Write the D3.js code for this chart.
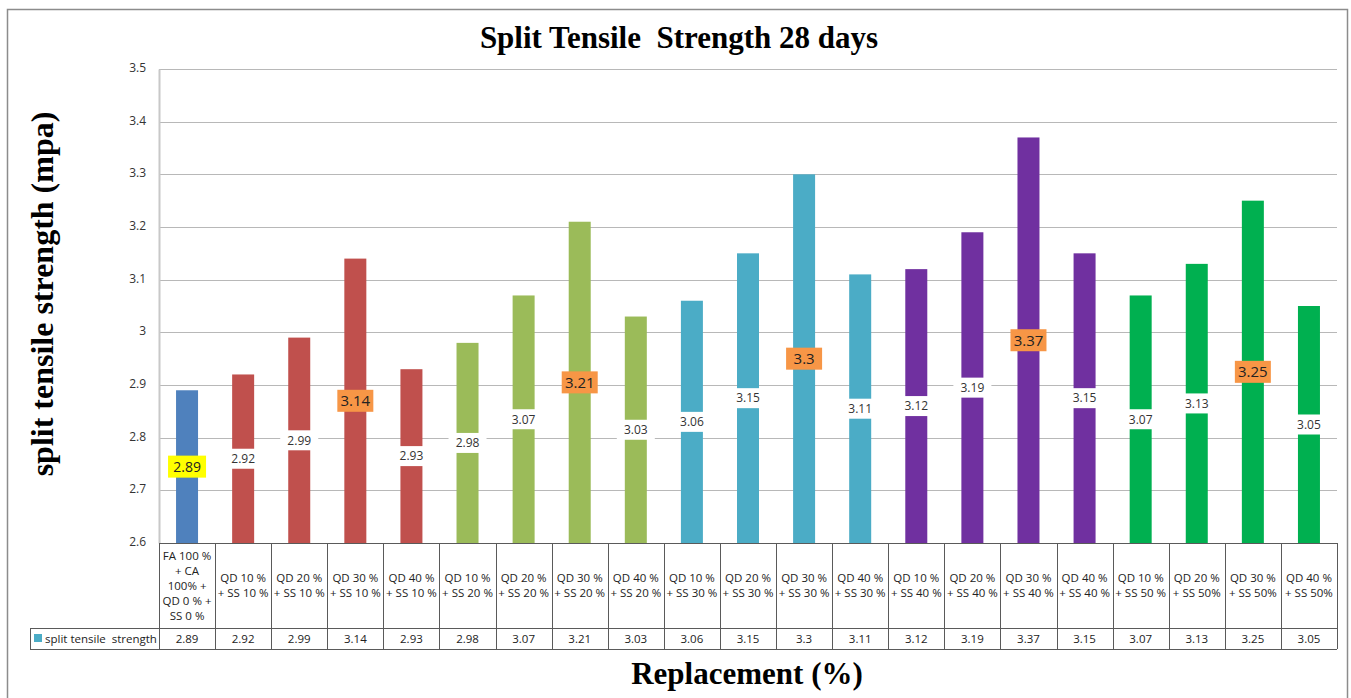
<!DOCTYPE html>
<html>
<head>
<meta charset="utf-8">
<script src="https://cdn.jsdelivr.net/npm/d3@7"></script>
<style>
  body { margin: 0; background: #fff; }
  svg { display: block; }
  .tick-label { font-family: "Open Sans", "Liberation Sans", sans-serif; font-size: 12px; fill: #333; }
  .cell-text { font-family: "Open Sans", "Liberation Sans", sans-serif; font-size: 11.5px; fill: #222; }
</style>
</head>
<body>
<script>
// chart data
var categories = [
    ["FA 100 %", "+ CA", "100% +", "QD 0 % +", "SS 0 %"],
    ["QD 10 %", "+ SS 10 %"], ["QD 20 %", "+ SS 10 %"], ["QD 30 %", "+ SS 10 %"], ["QD 40 %", "+ SS 10 %"],
    ["QD 10 %", "+ SS 20 %"], ["QD 20 %", "+ SS 20 %"], ["QD 30 %", "+ SS 20 %"], ["QD 40 %", "+ SS 20 %"],
    ["QD 10 %", "+ SS 30 %"], ["QD 20 %", "+ SS 30 %"], ["QD 30 %", "+ SS 30 %"], ["QD 40 %", "+ SS 30 %"],
    ["QD 10 %", "+ SS 40 %"], ["QD 20 %", "+ SS 40 %"], ["QD 30 %", "+ SS 40 %"], ["QD 40 %", "+ SS 40 %"],
    ["QD 10 %", "+ SS 50 %"], ["QD 20 %", "+ SS 50%"], ["QD 30 %", "+ SS 50%"], ["QD 40 %", "+ SS 50%"]
];
var values = [2.89, 2.92, 2.99, 3.14, 2.93, 2.98, 3.07, 3.21, 3.03, 3.06, 3.15, 3.3, 3.11, 3.12, 3.19, 3.37, 3.15, 3.07, 3.13, 3.25, 3.05];
var valueLabels = ["2.89", "2.92", "2.99", "3.14", "2.93", "2.98", "3.07", "3.21", "3.03", "3.06", "3.15", "3.3", "3.11", "3.12", "3.19", "3.37", "3.15", "3.07", "3.13", "3.25", "3.05"];
var groups = [0, 1, 1, 1, 1, 2, 2, 2, 2, 3, 3, 3, 3, 4, 4, 4, 4, 5, 5, 5, 5];
var groupColors = ["#4f81bd", "#c0504d", "#9bbb59", "#4bacc6", "#7030a0", "#00b050"];
// label highlight: 0 plain white, 1 yellow, 2 orange
var labelStyle = [1, 0, 0, 2, 0, 0, 0, 2, 0, 0, 0, 2, 0, 0, 0, 2, 0, 0, 0, 2, 0];
var yTicks = [2.6, 2.7, 2.8, 2.9, 3, 3.1, 3.2, 3.3, 3.4, 3.5];
var seriesName = "split tensile  strength";

var W = 1351, H = 698;
var PLOT_L = 159, PLOT_R = 1337, PLOT_T = 69, PLOT_B = 543;
var CAT_ROW_B = 628, DATA_ROW_B = 649, LEGEND_L = 30;

var svg = d3.select("body").append("svg")
    .attr("width", W)
    .attr("height", H);

// outer frame
svg.append("rect")
    .attr("x", 7.5).attr("y", 9.5)
    .attr("width", 1340).attr("height", 720)
    .attr("fill", "none")
    .attr("stroke", "#8c8c8c")
    .attr("stroke-width", 1.5);

var x = d3.scaleBand()
    .domain(d3.range(values.length))
    .range([PLOT_L, PLOT_R]);
var y = d3.scaleLinear()
    .domain([2.6, 3.5])
    .range([PLOT_B, PLOT_T]);

// gridlines
svg.selectAll("gridline")
    .data(yTicks)
    .enter()
    .append("line")
    .attr("x1", PLOT_L)
    .attr("x2", PLOT_R)
    .attr("y1", function (d) { return Math.round(y(d)) + 0.5; })
    .attr("y2", function (d) { return Math.round(y(d)) + 0.5; })
    .attr("stroke", "#b8b8b8")
    .attr("stroke-width", 1);

// y axis
var yAxis = d3.axisLeft(y).tickValues(yTicks).tickSize(0).tickPadding(13)
    .tickFormat(function (d) { return String(d); });
var yg = svg.append("g")
    .attr("transform", "translate(" + PLOT_L + ",0)")
    .call(yAxis);
yg.select(".domain").attr("stroke", "#c8c8c8").attr("stroke-width", 2);
yg.selectAll("text").attr("class", "tick-label").attr("dy", "0.2em");

// bars
var barW = 22;
svg.selectAll("bar")
    .data(values)
    .enter()
    .append("rect")
    .attr("x", function (d, i) { return x(i) + x.bandwidth() / 2 - barW / 2; })
    .attr("y", function (d) { return y(d); })
    .attr("width", barW)
    .attr("height", function (d) { return PLOT_B - y(d); })
    .attr("fill", function (d, i) { return groupColors[groups[i]]; });

// data labels in the middle of each bar
var labels = svg.selectAll("datalabel")
    .data(values)
    .enter()
    .append("g")
    .attr("transform", function (d, i) {
        return "translate(" + (x(i) + x.bandwidth() / 2) + "," + ((y(d) + PLOT_B) / 2) + ")";
    });
labels.append("rect")
    .attr("x", function (d, i) { return labelStyle[i] === 2 ? -18 : -19; })
    .attr("y", function (d, i) { return labelStyle[i] === 0 ? -10 : -11; })
    .attr("width", function (d, i) { return labelStyle[i] === 2 ? 36 : 38; })
    .attr("height", function (d, i) { return labelStyle[i] === 0 ? 20 : 22; })
    .attr("fill", function (d, i) { return ["#ffffff", "#ffff00", "#f79646"][labelStyle[i]]; });
labels.append("text")
    .attr("text-anchor", "middle")
    .attr("dy", "0.36em")
    .attr("font-family", "'Open Sans', 'Liberation Sans', sans-serif")
    .attr("font-size", function (d, i) { return labelStyle[i] === 0 ? "12px" : (labelStyle[i] === 1 ? "14px" : "15px"); })
    .attr("fill", function (d, i) { return labelStyle[i] === 0 ? "#333" : "#222"; })
    .text(function (d, i) { return valueLabels[i]; });

// data table
var gridColor = "#5a5a5a";
var tbl = svg.append("g");
tbl.append("line").attr("x1", PLOT_L).attr("x2", PLOT_R).attr("y1", PLOT_B + 0.5).attr("y2", PLOT_B + 0.5).attr("stroke", gridColor);
tbl.append("line").attr("x1", LEGEND_L).attr("x2", PLOT_R).attr("y1", CAT_ROW_B + 0.5).attr("y2", CAT_ROW_B + 0.5).attr("stroke", gridColor);
tbl.append("line").attr("x1", LEGEND_L).attr("x2", PLOT_R).attr("y1", DATA_ROW_B + 0.5).attr("y2", DATA_ROW_B + 0.5).attr("stroke", gridColor);
tbl.append("line").attr("x1", LEGEND_L + 0.5).attr("x2", LEGEND_L + 0.5).attr("y1", CAT_ROW_B).attr("y2", DATA_ROW_B).attr("stroke", gridColor);
tbl.selectAll("vline")
    .data(d3.range(values.length + 1))
    .enter()
    .append("line")
    .attr("x1", function (i) { return Math.round(PLOT_L + i * x.bandwidth()) + 0.5; })
    .attr("x2", function (i) { return Math.round(PLOT_L + i * x.bandwidth()) + 0.5; })
    .attr("y1", PLOT_B)
    .attr("y2", DATA_ROW_B)
    .attr("stroke", gridColor);

// category names
var lineH = 15;
tbl.selectAll("catname")
    .data(categories)
    .enter()
    .append("text")
    .attr("class", "cell-text")
    .attr("text-anchor", "middle")
    .attr("transform", function (d, i) {
        var cy = (PLOT_B + CAT_ROW_B) / 2 - (d.length - 1) * lineH / 2;
        return "translate(" + (x(i) + x.bandwidth() / 2) + "," + cy + ")";
    })
    .selectAll("tspan")
    .data(function (d) { return d; })
    .enter()
    .append("tspan")
    .attr("x", 0)
    .attr("y", function (d, j) { return j * lineH; })
    .attr("dy", "0.35em")
    .text(function (d) { return d; });

// values row
tbl.selectAll("valcell")
    .data(valueLabels)
    .enter()
    .append("text")
    .attr("class", "cell-text")
    .attr("text-anchor", "middle")
    .attr("x", function (d, i) { return x(i) + x.bandwidth() / 2; })
    .attr("y", (CAT_ROW_B + DATA_ROW_B) / 2)
    .attr("dy", "0.36em")
    .attr("font-size", "12px")
    .text(function (d) { return d; });

// legend key in the table
tbl.append("rect")
    .attr("x", 34).attr("y", 634)
    .attr("width", 8).attr("height", 8)
    .attr("fill", "#4bacc6");
tbl.append("text")
    .attr("class", "cell-text")
    .attr("x", 45)
    .attr("y", (CAT_ROW_B + DATA_ROW_B) / 2)
    .attr("dy", "0.36em")
    .style("white-space", "pre")
    .text(seriesName);

// titles
svg.append("text")
    .attr("x", 679).attr("y", 48)
    .attr("text-anchor", "middle")
    .attr("font-family", "'Liberation Serif', 'Times New Roman', serif")
    .attr("font-weight", "bold")
    .attr("font-size", "31px")
    .style("white-space", "pre")
    .text("Split Tensile  Strength 28 days");

svg.append("text")
    .attr("transform", "translate(53,294) rotate(-90)")
    .attr("text-anchor", "middle")
    .attr("font-family", "'Liberation Serif', 'Times New Roman', serif")
    .attr("font-weight", "bold")
    .attr("font-size", "32px")
    .text("split tensile strength (mpa)");

svg.append("text")
    .attr("x", 747).attr("y", 684)
    .attr("text-anchor", "middle")
    .attr("font-family", "'Liberation Serif', 'Times New Roman', serif")
    .attr("font-weight", "bold")
    .attr("font-size", "31px")
    .text("Replacement (%)");
</script>
</body>
</html>
